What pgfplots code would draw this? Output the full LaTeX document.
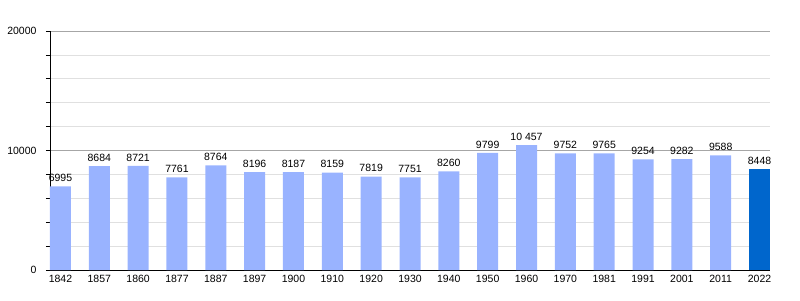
\documentclass[border=0pt]{standalone}
\usepackage{fontspec}
\setmainfont{Liberation Sans}
\usepackage{pgfplots}
\usepackage{pgfplotstable}
\pgfplotsset{compat=1.18}
\definecolor{barlight}{HTML}{99B3FF}
\definecolor{bardark}{HTML}{0066CC}
\pgfplotstableread{
x y lab
0 6995 6995
1 8684 8684
2 8721 8721
3 7761 7761
4 8764 8764
5 8196 8196
6 8187 8187
7 8159 8159
8 7819 7819
9 7751 7751
10 8260 8260
11 9799 9799
12 10457 {10 457}
13 9752 9752
14 9765 9765
15 9254 9254
16 9282 9282
17 9588 9588
}\lighttab
\pgfplotstableread{
x y lab
18 8448 8448
}\darktab
\begin{document}
\begin{tikzpicture}
\begin{axis}[
  scale only axis,
  width=720pt, height=239pt,
  xmin=-0.27, xmax=18.27,
  ymin=0, ymax=20000,
  axis lines*=left,
  axis line style={black, line width=0.8pt},
  xtick={0,...,18},
  xticklabels={1842,1857,1860,1877,1887,1897,1900,1910,1920,1930,1940,1950,1960,1970,1981,1991,2001,2011,2022},
  ytick={0,10000,20000},
  yticklabels={0,10000,20000},
  scaled y ticks=false,
  minor ytick={2000,4000,6000,8000,12000,14000,16000,18000},
  major x tick style={draw=none},
  tick align=outside,
  major tick length=4pt, minor tick length=4pt,
  tick style={black, line width=0.6pt},
  ymajorgrids, yminorgrids,
  major grid style={color=black!35, line width=0.6pt},
  minor grid style={color=black!12, line width=0.6pt},
  /pgf/number format/assume math mode=true,
  /pgf/number format/1000 sep={},
  tick label style={font=\fontsize{10.5}{12}\selectfont},
  xticklabel style={yshift=2pt},
  yticklabel style={xshift=-6pt},
  nodes near coords style={font=\fontsize{10.5}{12}\selectfont, black, yshift=1pt},
]
\addplot[ybar, bar width=21pt, bar shift=0pt, fill=barlight, draw=none,
  nodes near coords, point meta=explicit symbolic]
  table[x=x, y=y, meta=lab] {\lighttab};
\addplot[ybar, bar width=21pt, bar shift=0pt, fill=bardark, draw=none,
  nodes near coords, point meta=explicit symbolic]
  table[x=x, y=y, meta=lab] {\darktab};
\end{axis}
\path ([xshift=-50pt,yshift=-30pt]current axis.south west) rectangle ([xshift=30pt,yshift=31pt]current axis.north east);
\end{tikzpicture}
\end{document}
